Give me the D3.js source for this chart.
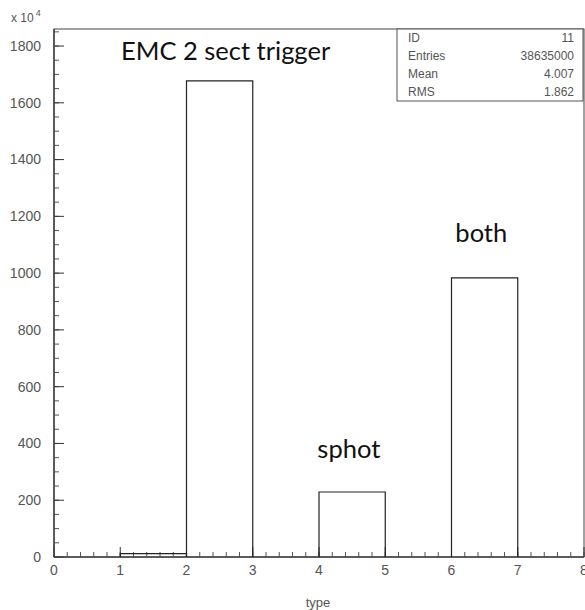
<!DOCTYPE html>
<html>
<head>
<meta charset="utf-8">
<script src="https://cdn.jsdelivr.net/npm/d3@7"></script>
<style>
  body { margin: 0; background: #fff; }
  svg { display: block; }
</style>
</head>
<body>
<div id="chart"></div>
<script>
// histogram bins (type), contents in units of 10^4
const binEdges = [0, 1, 2, 3, 4, 5, 6, 7, 8];
const binCounts = [0, 12, 1677, 0, 229, 0, 983, 0];
const yTicks = [0, 200, 400, 600, 800, 1000, 1200, 1400, 1600, 1800];
const xTicks = [0, 1, 2, 3, 4, 5, 6, 7, 8];
const statLabels = ['ID', 'Entries', 'Mean', 'RMS'];
const statValues = ['11', '38635000', '4.007', '1.862'];
const notes = [
  { text: 'EMC 2 sect trigger', x: 2.59, y: 1752 },
  { text: 'sphot', x: 4.45, y: 348 },
  { text: 'both', x: 6.45, y: 1110 }
];

const W = 585, H = 610;
const margin = { top: 29, right: 1, bottom: 53, left: 54 };
const width = W - margin.left - margin.right;
const height = H - margin.top - margin.bottom;

const svg = d3.select('#chart').append('svg')
  .attr('width', W).attr('height', H);

const g = svg.append('g')
  .attr('transform', `translate(${margin.left},${margin.top})`);

const x = d3.scaleLinear().domain([0, 8]).range([0, width]);
const y = d3.scaleLinear().domain([0, 1860]).range([height, 0]);

const axisColor = '#555';
const labelFont = 'Liberation Sans, Arial, sans-serif';

// frame
g.append('rect')
  .attr('x', 0).attr('y', 0)
  .attr('width', width).attr('height', height)
  .attr('fill', 'none').attr('stroke', '#444').attr('stroke-width', 1);

// minor ticks x (inward)
const xMinor = d3.range(0, 8.001, 0.2);
g.append('g').selectAll('line').data(xMinor).join('line')
  .attr('x1', d => x(d)).attr('x2', d => x(d))
  .attr('y1', height).attr('y2', height - 5)
  .attr('stroke', axisColor);
g.append('g').selectAll('line').data(xTicks).join('line')
  .attr('x1', d => x(d)).attr('x2', d => x(d))
  .attr('y1', height).attr('y2', height - 10)
  .attr('stroke', '#333');

// minor ticks y
const yMinor = d3.range(0, 1851, 50);
g.append('g').selectAll('line').data(yMinor).join('line')
  .attr('y1', d => y(d)).attr('y2', d => y(d))
  .attr('x1', 0).attr('x2', 5)
  .attr('stroke', axisColor);
g.append('g').selectAll('line').data(yTicks).join('line')
  .attr('y1', d => y(d)).attr('y2', d => y(d))
  .attr('x1', 0).attr('x2', 10)
  .attr('stroke', '#333');

// axis lines a bit heavier
g.append('line').attr('x1', 0).attr('x2', width)
  .attr('y1', height).attr('y2', height)
  .attr('stroke', '#444').attr('stroke-width', 1.5);
g.append('line').attr('x1', 0).attr('x2', 0)
  .attr('y1', 0).attr('y2', height)
  .attr('stroke', '#444').attr('stroke-width', 1.5);

// tick labels
g.append('g').selectAll('text').data(yTicks).join('text')
  .attr('x', -13).attr('y', d => y(d))
  .attr('dy', '0.35em')
  .attr('text-anchor', 'end')
  .attr('font-family', labelFont).attr('font-size', 14)
  .attr('fill', '#555')
  .text(d => d);

g.append('g').selectAll('text').data(xTicks).join('text')
  .attr('x', d => x(d)).attr('y', height + 18)
  .attr('text-anchor', 'middle')
  .attr('font-family', labelFont).attr('font-size', 14)
  .attr('fill', '#555')
  .text(d => d);

// exponent label
const expo = svg.append('text')
  .attr('x', 11).attr('y', 22)
  .attr('font-family', labelFont).attr('font-size', 12)
  .attr('fill', '#555');
expo.append('tspan').text('x 10');
expo.append('tspan').attr('dx', 2).attr('dy', -6).attr('font-size', 9).text('4');

// axis title
svg.append('text')
  .attr('x', 318).attr('y', 607)
  .attr('text-anchor', 'middle')
  .attr('font-family', labelFont).attr('font-size', 13)
  .attr('fill', '#555')
  .text('type');

// histogram bars
const bins = binCounts.map((c, i) => ({ x0: binEdges[i], x1: binEdges[i + 1], c }));
g.append('g').selectAll('path').data(bins.filter(b => b.c > 0)).join('path')
  .attr('d', b => `M${x(b.x0)},${y(0)}V${y(b.c)}H${x(b.x1)}V${y(0)}`)
  .attr('fill', 'none').attr('stroke', '#222').attr('stroke-width', 1.2);

// stats box
const box = svg.append('g').attr('transform', 'translate(397,29)');
box.append('rect')
  .attr('width', 186).attr('height', 72)
  .attr('fill', '#fff').attr('stroke', '#555');
box.selectAll('text.lab').data(statLabels).join('text')
  .attr('class', 'lab')
  .attr('x', 11).attr('y', (d, i) => 13 + i * 18)
  .attr('font-family', labelFont).attr('font-size', 12)
  .attr('fill', '#555')
  .text(d => d);
box.selectAll('text.val').data(statValues).join('text')
  .attr('class', 'val')
  .attr('x', 177).attr('y', (d, i) => 13 + i * 18)
  .attr('text-anchor', 'end')
  .attr('font-family', labelFont).attr('font-size', 12)
  .attr('fill', '#555')
  .text(d => d);

// annotations
g.append('g').selectAll('text').data(notes).join('text')
  .attr('x', d => x(d.x)).attr('y', d => y(d.y))
  .attr('text-anchor', 'middle')
  .attr('font-family', 'Lato, "Open Sans", sans-serif')
  .attr('font-size', 25.5)
  .attr('fill', '#111')
  .text(d => d.text);
</script>
</body>
</html>
